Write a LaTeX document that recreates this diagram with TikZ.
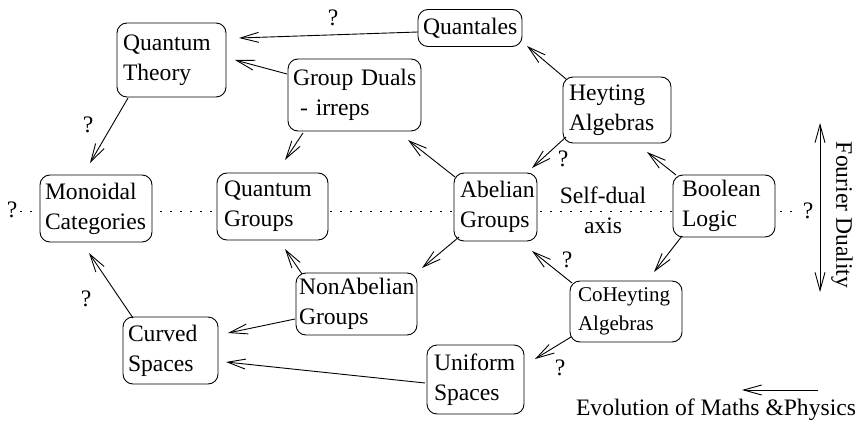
\documentclass[tikz,border=0pt]{standalone}
\usepackage{fontspec}
\setmainfont{Liberation Serif}
\usetikzlibrary{arrows.meta,backgrounds}
\hyphenpenalty=10000
\exhyphenpenalty=10000
\begin{document}
\begin{tikzpicture}[x=1pt,y=-1pt,
  font=\fontsize{23.6}{30}\selectfont,
  box/.style={draw, rounded corners=10pt, fill=white, align=left, inner ysep=0pt, line width=0.9pt},
  arr/.style={-{Straight Barb[length=18pt,width=10pt,line width=0.9pt]}, line width=0.9pt},
  dbl/.style={{Straight Barb[length=18pt,width=10pt,line width=0.9pt]}-{Straight Barb[length=18pt,width=10pt,line width=0.9pt]}, line width=0.9pt},
  lbl/.style={inner sep=0pt}]
\useasboundingbox (0,0) rectangle (858,425);

% nodes
\node[box, align=center, inner xsep=5pt, text width=94pt, minimum height=37pt] (qtl) at (470,28) {Quantales};
\node[box, inner xsep=6pt, text width=97pt, minimum height=74pt] (qt) at (171.5,60) {Quantum\\Theory};
\node[box, inner xsep=5pt, text width=123pt, minimum height=72pt] (gd) at (354.5,95) {\mbox{Group Duals}\\\hspace*{0.3em}- irreps};
\node[box, inner xsep=6pt, text width=96pt, minimum height=66pt] (hy) at (617,110) {Heyting\\Algebras};
\node[box, inner xsep=5pt, text width=102pt, minimum height=67pt] (mc) at (96,208.5) {Monoidal\\Categories};
\node[box, inner xsep=7pt, text width=97pt, minimum height=67pt] (qg) at (272.5,206.5) {Quantum\\Groups};
\node[box, inner xsep=6pt, text width=71pt, minimum height=68pt] (ab) at (495.5,207) {Abelian\\Groups};
\node[box, inner xsep=9pt, text width=84pt, minimum height=62pt] (bl) at (724,206) {Boolean\\Logic};
\node[box, inner xsep=3pt, text width=115pt, minimum height=62pt] (na) at (356.5,304) {NonAbelian\\Groups};
\node[box, inner xsep=8pt, text width=96pt, minimum height=61pt, font=\fontsize{21}{29}\selectfont] (ch) at (626,311.5) {CoHeyting\\Algebras};
\node[box, inner xsep=5pt, text width=85pt, minimum height=67pt] (cs) at (170.5,350.5) {Curved\\Spaces};
\node[box, inner xsep=7pt, text width=83pt, minimum height=69pt] (us) at (475.5,379.5) {Uniform\\Spaces};

\node[lbl, align=center] (sd) at (603,210) {Self-dual\\axis};
\node[lbl, rotate=-90] (fd) at (842,215) {Fourier Duality};
\node[lbl] (evol) at (716,410) {Evolution of Maths \&Physics};

% question marks
\node[lbl] (q1) at (333,18) {?};
\node[lbl] (q2) at (88,125) {?};
\node[lbl] (q3) at (563,159) {?};
\node[lbl] (q4) at (567,260) {?};
\node[lbl] (q5) at (560,368) {?};
\node[lbl] (q6) at (86,299) {?};
\node[lbl] (qL) at (12,210) {?};
\node[lbl] (qR) at (808,211) {?};

% self-dual axis
\begin{scope}[on background layer]
\draw[line width=0.9pt, dash pattern=on 1.2pt off 8.8pt] ([xshift=3pt]qL.east |- 0,211) -- ([xshift=-3pt]qR.west |- 0,211);
\end{scope}

% connectors
\draw[arr] ([shift={(-52,4)}]qtl.center) -- ([shift={(67.5,-22)}]qt.center);
\draw[arr] ([shift={(-67.5,-21)}]gd.center) -- ([shift={(63.5,0)}]qt.center);
\draw[arr] ([shift={(-43.5,38)}]qt.center) -- ([shift={(-6,-45.5)}]mc.center);
\draw[arr] ([shift={(-51.5,38)}]gd.center) -- ([shift={(12.5,-46.5)}]qg.center);
\draw[arr] ([shift={(-51,-31)}]hy.center) -- ([shift={(57,18)}]qtl.center);
\draw[arr] ([shift={(-40.5,-30)}]ab.center) -- ([shift={(53.5,45)}]gd.center);
\draw[arr] ([shift={(-51,27)}]hy.center) -- ([shift={(36.5,-39)}]ab.center);
\draw[arr] ([shift={(-48,-31)}]bl.center) -- ([shift={(30,42)}]hy.center);
\draw[arr] ([shift={(-36.5,30)}]ab.center) -- ([shift={(65.5,-36)}]na.center);
\draw[arr] ([shift={(-54.5,-30)}]na.center) -- ([shift={(12.5,42.5)}]qg.center);
\draw[arr] ([shift={(-54,-28.5)}]ch.center) -- ([shift={(36.5,44)}]ab.center);
\draw[arr] ([shift={(-42,30)}]bl.center) -- ([shift={(28,-39.5)}]ch.center);
\draw[arr] ([shift={(-55,25.5)}]ch.center) -- ([shift={(59.5,-20.5)}]us.center);
\draw[arr] ([shift={(-61.5,15)}]na.center) -- ([shift={(57.5,-17.5)}]cs.center);
\draw[arr] ([shift={(-50.5,3.5)}]us.center) -- ([shift={(55.5,11.5)}]cs.center);
\draw[arr] ([shift={(-37.5,-32.5)}]cs.center) -- ([shift={(-7,44.5)}]mc.center);

% legend arrows
\coordinate (fdtop) at (820,123);
\coordinate (fdbot) at (820,292);
\draw[dbl] (fdtop) -- (fdbot);
\coordinate (ev1) at (818,390);
\coordinate (ev2) at (742,390);
\draw[arr] (ev1) -- (ev2);
\end{tikzpicture}
\end{document}
